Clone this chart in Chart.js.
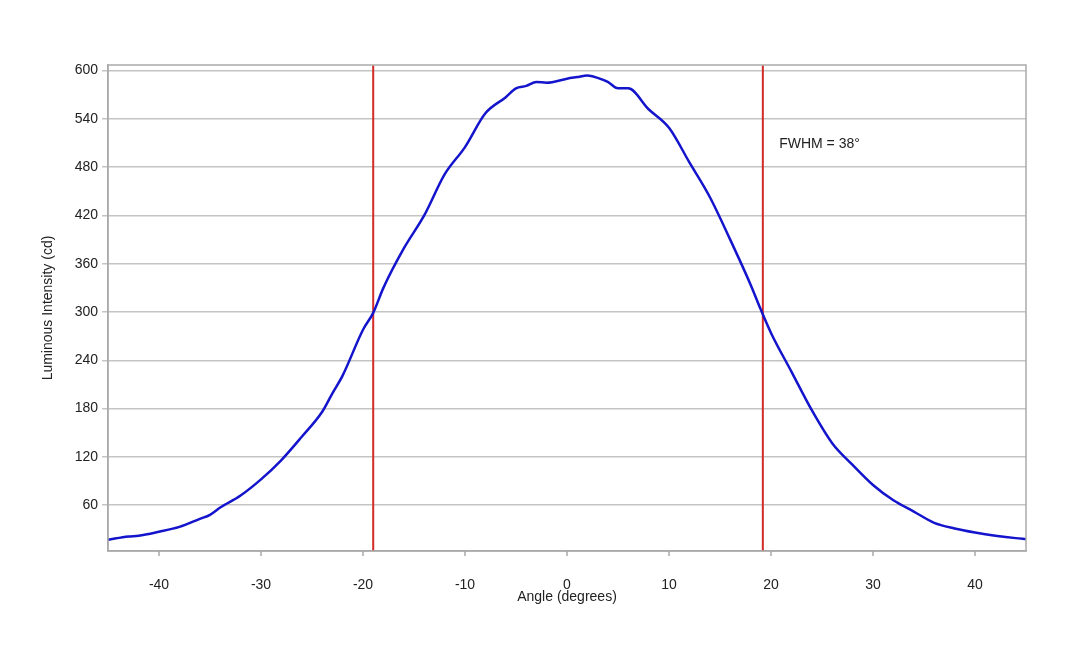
<!DOCTYPE html>
<html>
<head>
<meta charset="utf-8">
<script src="https://cdn.jsdelivr.net/npm/chart.js@4.4.0/dist/chart.umd.min.js"></script>
<style>
  html, body { margin: 0; padding: 0; background: #fff; }
  #wrap { width: 1080px; height: 648px; }
</style>
</head>
<body>
<div id="wrap"><canvas id="myChart"></canvas></div>
<script>
// angle (degrees) and luminous intensity (cd)
var angles = [-45, -43, -42, -40, -38, -36, -35, -34, -32, -30, -28, -26, -24, -23, -22, -20, -19, -18, -16, -14, -12, -10, -8, -6, -5, -4, -3, -2, 0, 1, 2, 3, 4, 5, 6, 8, 10, 12, 14, 16, 18, 19, 20, 22, 24, 26, 28, 30, 32, 34, 36, 38, 40, 42, 44, 45];
var intensity = [17, 21, 22, 27, 33, 43, 48, 57, 72, 92, 116, 145, 176, 199, 221, 278, 299, 330, 379, 420, 471, 505, 547, 567, 578, 581, 586, 585, 590, 592, 594, 591, 586, 578, 578, 552, 529, 486, 443, 390, 334, 303, 274, 226, 178, 137, 110, 85, 66, 52, 38, 31, 26, 22, 19, 18];
var fwhmLines = [-19, 19.2];
var yTicks = [60, 120, 180, 240, 300, 360, 420, 480, 540, 600];
var xTicks = [-40, -30, -20, -10, 0, 10, 20, 30, 40];
var annotation = { x: 20.8, y: 509, text: 'FWHM = 38°' };

var FONT = 'Liberation Sans, Arial, sans-serif';

var extras = {
  id: 'extras',
  beforeDatasetsDraw: function (chart) {
    var c = chart.ctx, a = chart.chartArea;
    var xs = chart.scales.x;
    c.save();
    c.strokeStyle = '#d42a2a';
    c.lineWidth = 2;
    fwhmLines.forEach(function (v) {
      var px = xs.getPixelForValue(v);
      c.beginPath(); c.moveTo(px, a.top); c.lineTo(px, a.bottom); c.stroke();
    });
    c.restore();
  },
  afterDraw: function (chart) {
    var c = chart.ctx, a = chart.chartArea;
    c.save();
    c.strokeStyle = '#aaaaaa';
    c.lineWidth = 1.5;
    c.strokeRect(a.left, a.top, a.right - a.left, a.bottom - a.top);
    // small tick marks under the x axis
    c.beginPath();
    xTicks.forEach(function (v) {
      var px = chart.scales.x.getPixelForValue(v);
      c.moveTo(px, a.bottom); c.lineTo(px, a.bottom + 5);
    });
    c.stroke();
    c.fillStyle = '#222';
    c.font = '14px ' + FONT;
    c.textBaseline = 'middle';
    c.fillText(annotation.text, chart.scales.x.getPixelForValue(annotation.x), chart.scales.y.getPixelForValue(annotation.y));
    c.restore();
  }
};

new Chart(document.getElementById('myChart'), {
  type: 'line',
  data: {
    datasets: [{
      data: angles.map(function (a, i) { return { x: a, y: intensity[i] }; }),
      borderColor: '#1414cc',
      borderWidth: 2.5,
      pointRadius: 0,
      cubicInterpolationMode: 'monotone',
      fill: false
    }]
  },
  options: {
    responsive: true,
    maintainAspectRatio: false,
    animation: false,
    layout: { padding: { left: 40, top: 65, right: 54, bottom: 42 } },
    plugins: { legend: { display: false }, tooltip: { enabled: false } },
    scales: {
      x: {
        type: 'linear', min: -45, max: 45,
        afterBuildTicks: function (s) { s.ticks = xTicks.map(function (v) { return { value: v }; }); },
        afterFit: function (s) { s.height = 55; },
        grid: { display: false },
        border: { color: '#aaaaaa', width: 1.5 },
        ticks: { color: '#222', font: { family: FONT, size: 14 }, maxRotation: 0, padding: 18 },
        title: { display: true, text: 'Angle (degrees)', color: '#222', font: { family: FONT, size: 14 }, padding: 0 }
      },
      y: {
        min: 3, max: 607,
        afterBuildTicks: function (s) { s.ticks = yTicks.map(function (v) { return { value: v }; }); },
        afterFit: function (s) { s.width = 68; },
        grid: { color: '#c4c4c4', lineWidth: 1.5, tickLength: 6 },
        border: { color: '#aaaaaa', width: 1.5 },
        ticks: { color: '#222', font: { family: FONT, size: 14 }, padding: 4 },
        title: { display: true, text: 'Luminous Intensity (cd)', color: '#222', font: { family: FONT, size: 14 }, padding: 0 }
      }
    }
  },
  plugins: [extras]
});
</script>
</body>
</html>
